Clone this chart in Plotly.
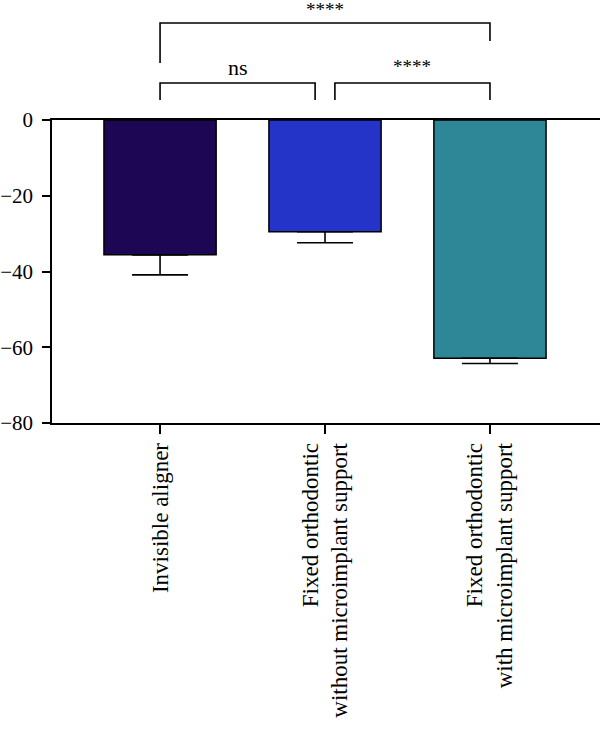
import plotly.graph_objects as go

categories = ["Invisible aligner",
              "Fixed orthodontic<br>without microimplant support",
              "Fixed orthodontic<br>with microimplant support"]
means = [-35.6, -29.5, -62.9]
errors = [5.3, 2.9, 1.4]
colors = ["#1d0653", "#2433c8", "#2e8796"]
yticks = [0, -20, -40, -60, -80]
comparisons = [(0, 1, "ns"), (1, 2, "****"), (0, 2, "****")]

xs = list(range(len(categories)))
FONT = "Liberation Serif"

fig = go.Figure()
fig.add_trace(go.Bar(
    x=xs, y=means, width=0.68,
    marker=dict(color=colors, line=dict(color="black", width=1.5)),
    error_y=dict(type="data", symmetric=False, array=[0] * len(errors),
                 arrayminus=errors, color="black", thickness=1.6, width=28),
    showlegend=False,
))

shapes = []
annotations = []
# bracket geometry in paper coordinates (above the plot)
for (a, b, label) in comparisons:
    if abs(a - b) == 2:
        yh, yl_a, yl_b = 1.320, 1.188, 1.261
        xa, xb = a, b
        fs, ysh = 19, 1
    else:
        yh, yl_a, yl_b = 1.122, 1.066, 1.066
        xa = a + (0.06 if a > 0 else 0)
        xb = b - (0.06 if b < 2 else 0)
        fs, ysh = (22, 1) if label == "ns" else (19, 4)
    shapes.append(dict(type="path", xref="x", yref="paper",
                       path=f"M {xa},{yl_a} L {xa},{yh} L {xb},{yh} L {xb},{yl_b}",
                       line=dict(color="black", width=1.6)))
    annotations.append(dict(x=(xa + xb) / 2, y=yh, xref="x", yref="paper",
                            text=label, showarrow=False, yanchor="bottom",
                            yshift=ysh, font=dict(family=FONT, size=fs, color="black")))

fig.update_layout(
    width=600, height=734,
    margin=dict(l=52, r=0, t=120, b=311),
    plot_bgcolor="white", paper_bgcolor="white",
    shapes=shapes, annotations=annotations,
    xaxis=dict(range=[-0.655, 2.667], tickvals=xs, ticktext=categories,
               tickangle=-90, ticks="outside", ticklen=9, tickwidth=1.6,
               tickcolor="black", showline=True, mirror=True, linecolor="black",
               linewidth=1.6, showgrid=False, zeroline=False, automargin=False,
               tickfont=dict(family=FONT, size=23, color="black")),
    yaxis=dict(range=[-80, 0], tickvals=yticks, ticks="outside", ticklen=8,
               tickwidth=1.6, tickcolor="black", showline=True, linecolor="black",
               linewidth=1.6, showgrid=False, zeroline=False, ticklabelstandoff=5,
               automargin=False,
               tickfont=dict(family=FONT, size=21, color="black")),
)

fig.write_html("out.html")
